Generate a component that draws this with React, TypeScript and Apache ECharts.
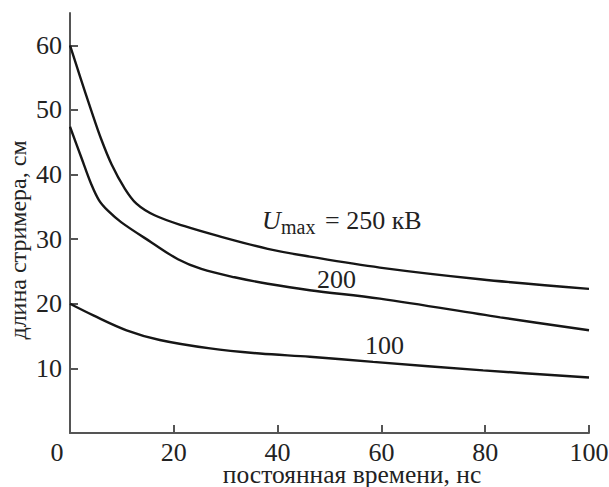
import React, { useEffect, useRef } from "react";
import * as echarts from "echarts";

const xTicks = [0, 20, 40, 60, 80, 100];
const xTickMarks = [20, 40, 60, 80, 100];
const yTicks = [10, 20, 30, 40, 50, 60];

const u250: [number, number][] = [
  [0, 60], [2, 55], [4.1, 49.9], [6, 45.5], [8, 41.6], [10.5, 37.9], [12.8, 35.5],
  [16.3, 33.7], [22.1, 32.0], [28.5, 30.5], [38.1, 28.5], [46.2, 27.3],
  [59.7, 25.6], [79, 23.8], [100, 22.3],
];
const u200: [number, number][] = [
  [0, 47.4], [2.2, 42.6], [4.1, 38.5], [5.6, 36], [7.3, 34.4], [9.9, 32.6], [15.7, 29.5],
  [20.8, 26.9], [25.3, 25.4], [31.7, 24.1], [38.1, 23.1], [46.2, 22.1], [59.7, 20.8],
  [82.9, 17.9], [100, 15.9],
];
const u100: [number, number][] = [
  [0, 20], [4.5, 18.2], [10.9, 15.9], [17.3, 14.4], [27, 13.1], [36.6, 12.3], [46.2, 11.8],
  [58.4, 11.0], [79.6, 9.7], [100, 8.6],
];

const FONT = "Liberation Serif";
const AXIS_COLOR = "#555";
const TXT = "#222";

export default function App() {
  const ref = useRef<HTMLDivElement>(null);
  useEffect(() => {
    if (!ref.current) return;
    const chart = echarts.init(ref.current, undefined, { renderer: "svg" });
    const line = (name: string, data: [number, number][]) => ({
      name,
      type: "line",
      data,
      smooth: 0.35,
      showSymbol: false,
      lineStyle: { color: "#161616", width: 2.4 },
    });
    const ts = { fontFamily: FONT, fontSize: 26, color: TXT };
    chart.setOption({
      animation: false,
      backgroundColor: "#fff",
      textStyle: { fontFamily: FONT },
      grid: { left: 70, right: 20, top: 13, bottom: 54, containLabel: false, outerBoundsMode: "none" },
      xAxis: {
        type: "value",
        min: 0,
        max: 100,
        interval: 20,
        name: "постоянная времени, нс",
        nameLocation: "middle",
        nameGap: 31,
        nameMoveOverlap: false,
        nameTextStyle: { fontFamily: FONT, fontSize: 25.5, lineHeight: 20, color: TXT, padding: [0, 0, 0, 45] },
        axisLine: { lineStyle: { color: AXIS_COLOR, width: 2 } },
        axisTick: { inside: true, length: 8, lineStyle: { color: AXIS_COLOR, width: 2 }, customValues: xTickMarks },
        axisLabel: {
          ...ts,
          lineHeight: 20,
          customValues: xTicks,
          margin: 9,
          formatter: (v: number) => (v === 0 ? "{z|0}" : String(v)),
          rich: { z: { ...ts, lineHeight: 20, padding: [0, 26, 0, 0] } },
        },
        splitLine: { show: false },
      },
      yAxis: {
        type: "value",
        min: 0,
        max: 65,
        interval: 10,
        name: "длина стримера, см",
        nameLocation: "middle",
        nameGap: 40,
        nameMoveOverlap: false,
        nameTextStyle: { fontFamily: FONT, fontSize: 24, color: TXT, padding: [0, 34, 0, 0] },
        axisLine: { lineStyle: { color: AXIS_COLOR, width: 2 } },
        axisTick: { inside: true, length: 8, lineStyle: { color: AXIS_COLOR, width: 2 }, customValues: yTicks },
        axisLabel: { ...ts, customValues: yTicks, margin: 8 },
        splitLine: { show: false },
      },
      graphic: [
        { type: "text", left: 262, top: 207, style: { text: "U", fontFamily: FONT, fontSize: 26, fontStyle: "italic", fill: TXT } },
        { type: "text", left: 281, top: 217, style: { text: "max", fontFamily: FONT, fontSize: 20, fill: TXT } },
        { type: "text", left: 325, top: 207, style: { text: "= 250 кВ", fontFamily: FONT, fontSize: 26, fill: TXT } },
        { type: "text", left: 317, top: 266, style: { text: "200", fontFamily: FONT, fontSize: 26, fill: TXT } },
        { type: "text", left: 365, top: 332, style: { text: "100", fontFamily: FONT, fontSize: 26, fill: TXT } },
      ],
      series: [line("250", u250), line("200", u200), line("100", u100)],
    });
    return () => chart.dispose();
  }, []);
  return (
    <div
      ref={ref}
      style={{ position: "fixed", left: 0, top: 0, width: 609, height: 487 }}
    />
  );
}
